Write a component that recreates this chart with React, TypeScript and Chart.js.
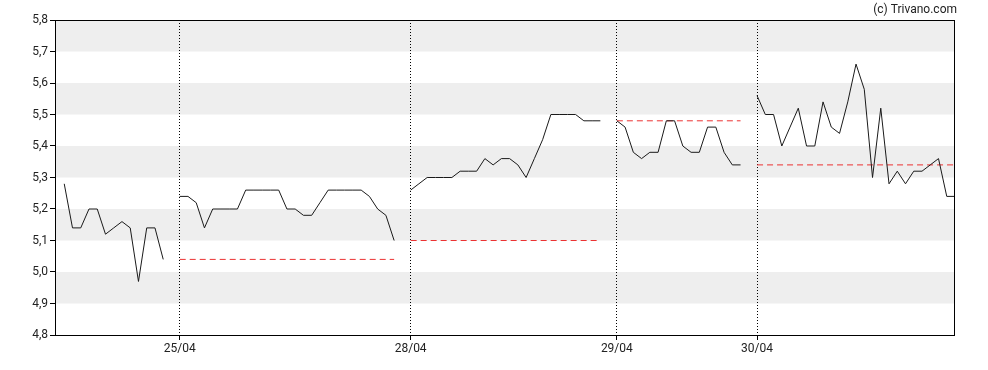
import React, { useEffect, useRef } from "react";
import { Chart, registerables } from "chart.js";

Chart.register(...registerables);

// ---- data ----
const dayLabels = ["24/04", "25/04", "28/04", "29/04", "30/04"];

const day1 = [5.28, 5.14, 5.14, 5.2, 5.2, 5.12, 5.14, 5.16, 5.14, 4.97, 5.14, 5.14, 5.04];
const day2 = [
  5.24, 5.24, 5.22, 5.14, 5.2, 5.2, 5.2, 5.2, 5.26, 5.26, 5.26, 5.26, 5.26, 5.2,
  5.2, 5.18, 5.18, 5.22, 5.26, 5.26, 5.26, 5.26, 5.26, 5.24, 5.2, 5.18, 5.1,
];
const day3 = [
  5.26, 5.28, 5.3, 5.3, 5.3, 5.3, 5.32, 5.32, 5.32, 5.36, 5.34, 5.36, 5.36, 5.34,
  5.3, 5.36, 5.42, 5.5, 5.5, 5.5, 5.5, 5.48, 5.48, 5.48,
];
const day4 = [5.48, 5.46, 5.38, 5.36, 5.38, 5.38, 5.48, 5.48, 5.4, 5.38, 5.38, 5.46, 5.46, 5.38, 5.34, 5.34];
const day5 = [
  5.56, 5.5, 5.5, 5.4, 5.46, 5.52, 5.4, 5.4, 5.54, 5.46, 5.44, 5.54, 5.66, 5.58,
  5.3, 5.52, 5.28, 5.32, 5.28, 5.32, 5.32, 5.34, 5.36, 5.24, 5.24,
];
const days = [day1, day2, day3, day4, day5];

// previous day close (red dashed reference lines)
const prevClose: (number | null)[] = [null, 5.04, 5.1, 5.48, 5.34];

const yTicks = [4.8, 4.9, 5.0, 5.1, 5.2, 5.3, 5.4, 5.5, 5.6, 5.7, 5.8];

const FONT = { family: "Roboto", size: 12 };
const TEXT = "#222222";

export default function App() {
  const ref = useRef<HTMLCanvasElement | null>(null);

  useEffect(() => {
    if (!ref.current) return;

    // x index of the first sample of each day (one empty slot between days)
    const starts: number[] = [];
    let pos = 0;
    days.forEach((d) => {
      starts.push(pos);
      pos += d.length + 1;
    });
    const xMin = -1;
    const xMax = starts[starts.length - 1] + days[days.length - 1].length - 1;

    const datasets: any[] = [];
    days.forEach((d, di) => {
      datasets.push({
        data: d.map((v, i) => ({ x: starts[di] + i, y: v })),
        borderColor: "#1a1a1a",
        borderWidth: 1,
        pointRadius: 0,
        tension: 0,
        fill: false,
      });
      const pc = prevClose[di];
      if (pc !== null) {
        datasets.push({
          data: [
            { x: starts[di], y: pc },
            { x: starts[di] + d.length - 1, y: pc },
          ],
          borderColor: "rgb(235,50,50)",
          borderWidth: 1,
          borderDash: [6, 4],
          pointRadius: 0,
          fill: false,
        });
      }
    });

    const tickStarts = starts.slice(1);

    const framePlugin = {
      id: "frame",
      beforeDatasetsDraw(chart: any) {
        const { ctx, chartArea: a, scales } = chart;
        const y = scales.y;
        ctx.save();
        ctx.fillStyle = "#eeeeee";
        for (let i = 0; i < yTicks.length - 1; i++) {
          if (i % 2 === 1) {
            const top = y.getPixelForValue(yTicks[i + 1]);
            const bot = y.getPixelForValue(yTicks[i]);
            ctx.fillRect(a.left, top, a.right - a.left, bot - top);
          }
        }
        // redraw dotted day separators over the bands
        const x = scales.x;
        ctx.strokeStyle = "#000";
        ctx.lineWidth = 1;
        ctx.setLineDash([1, 2]);
        tickStarts.forEach((v) => {
          const px = Math.round(x.getPixelForValue(v) - 0.5) + 0.5;
          ctx.beginPath();
          ctx.moveTo(px, a.top);
          ctx.lineTo(px, a.bottom);
          ctx.stroke();
        });
        ctx.restore();
      },
      afterDraw(chart: any) {
        const { ctx, chartArea: a } = chart;
        ctx.save();
        ctx.strokeStyle = "#000";
        ctx.lineWidth = 1;
        ctx.setLineDash([]);
        ctx.strokeRect(
          Math.round(a.left) - 0.5,
          Math.round(a.top) + 0.5,
          Math.round(a.right) - Math.round(a.left),
          Math.round(a.bottom) - Math.round(a.top)
        );
        ctx.fillStyle = TEXT;
        ctx.font = "12px Roboto";
        ctx.textAlign = "right";
        ctx.textBaseline = "alphabetic";
        ctx.fillText("(c) Trivano.com", 957, 12.5);
        ctx.restore();
      },
    };

    const chart = new Chart(ref.current, {
      type: "line",
      data: { datasets },
      options: {
        animation: false,
        responsive: false,
        maintainAspectRatio: false,
        layout: { padding: { top: 20, right: 33, left: 0, bottom: 0 } },
        plugins: {
          legend: { display: false },
          tooltip: { enabled: false },
        },
        scales: {
          x: {
            type: "linear",
            min: xMin,
            max: xMax,
            afterBuildTicks: (s: any) => {
              s.ticks = tickStarts.map((v) => ({ value: v }));
            },
            afterFit: (s: any) => {
              s.height = 35;
            },
            ticks: {
              autoSkip: false,
              maxRotation: 0,
              minRotation: 0,
              padding: 2,
              font: FONT,
              color: TEXT,
              callback: (v: any) => {
                const idx = starts.indexOf(Number(v));
                return idx >= 0 ? dayLabels[idx] : "";
              },
            },
            grid: {
              drawOnChartArea: false,
              drawTicks: true,
              tickLength: 5,
              tickColor: "#000",
              tickWidth: 1,
            },
            border: { display: false },
          },
          y: {
            min: 4.8,
            max: 5.8,
            afterBuildTicks: (s: any) => {
              s.ticks = yTicks.map((v) => ({ value: v }));
            },
            afterFit: (s: any) => {
              s.width = 56;
            },
            ticks: {
              padding: 2,
              font: FONT,
              color: TEXT,
              callback: (v: any) => Number(v).toFixed(1).replace(".", ","),
            },
            grid: {
              drawOnChartArea: false,
              drawTicks: true,
              tickLength: 6,
              tickColor: "#000",
              tickWidth: 1,
            },
            border: { display: false },
          },
        },
      },
      plugins: [framePlugin],
    });

    return () => chart.destroy();
  }, []);

  return (
    <div style={{ position: "fixed", left: 0, top: 0, width: 988, height: 370, background: "#fff" }}>
      <canvas ref={ref} width={988} height={370} style={{ display: "block" }} />
    </div>
  );
}
